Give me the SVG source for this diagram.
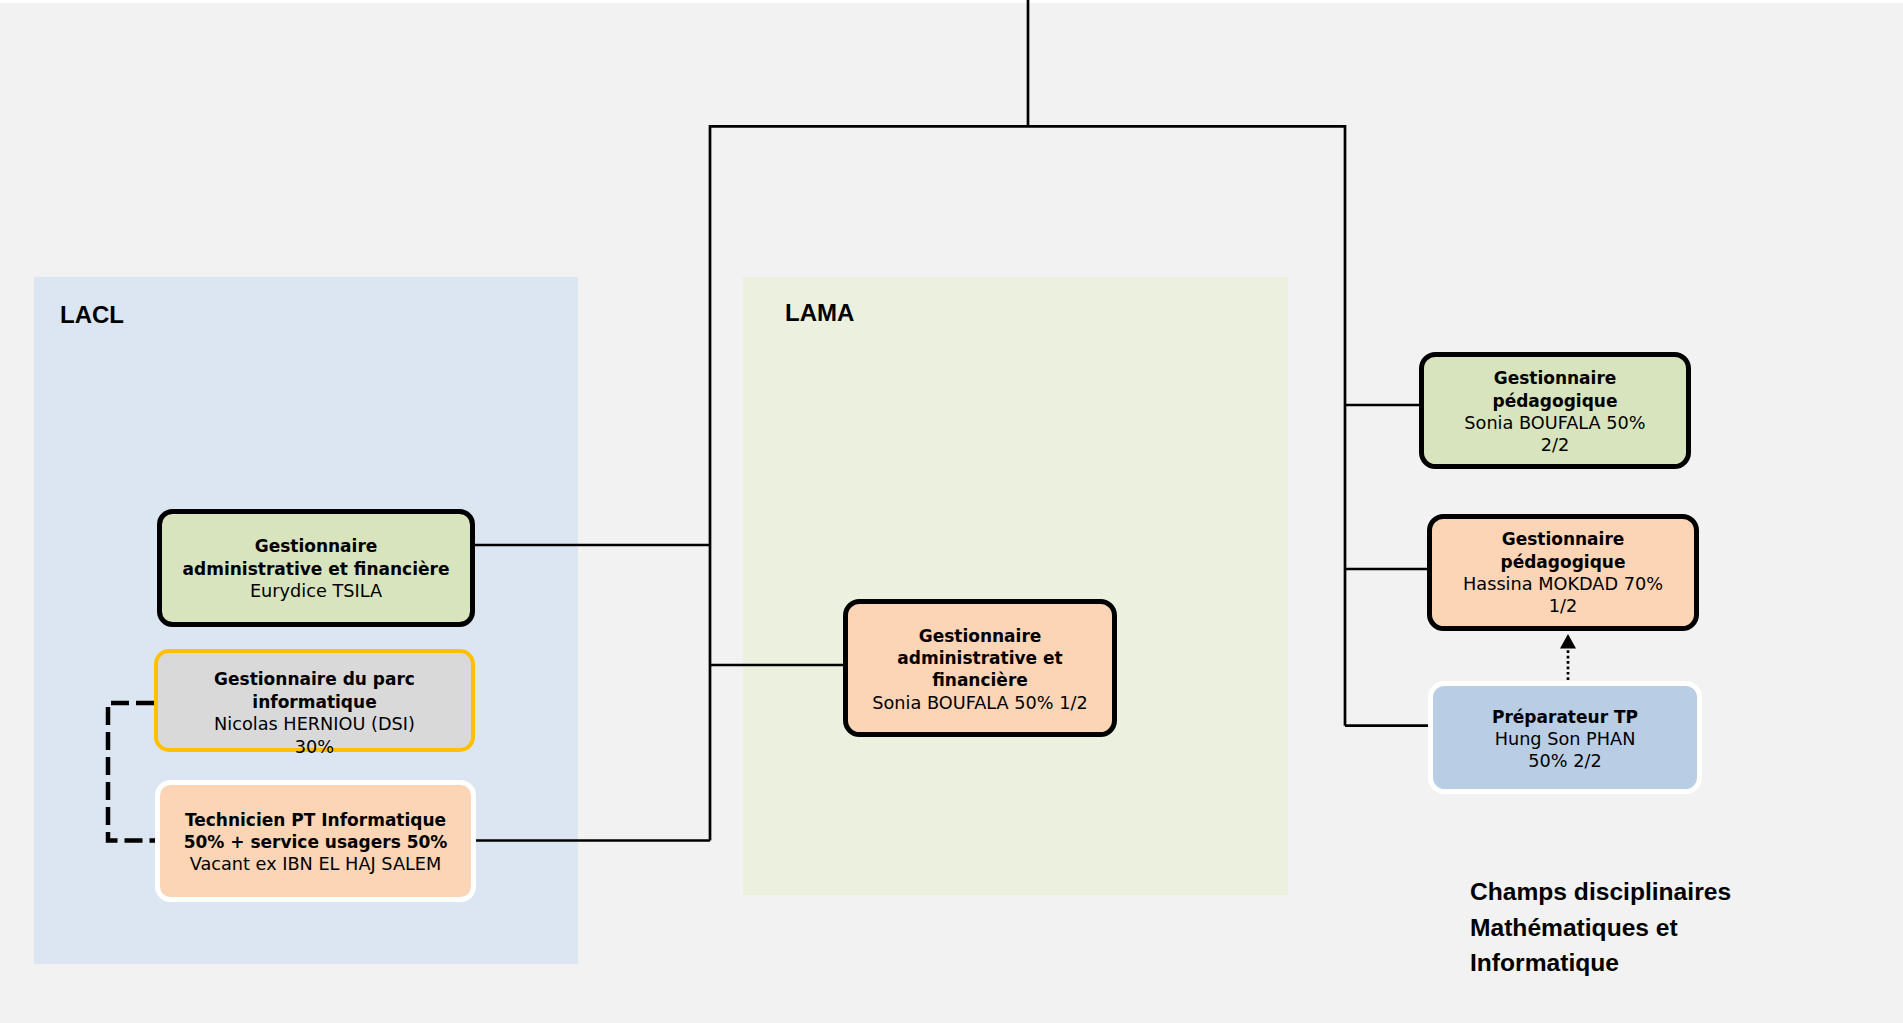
<svg xmlns="http://www.w3.org/2000/svg" width="1903" height="1023" viewBox="0 0 1903 1023">
<style>
.t{font-family:"DejaVu Sans","Liberation Sans",sans-serif;font-size:17.7px;fill:#000;text-anchor:middle}
.b{font-weight:bold;font-size:17px}
.lbl{font-family:"Liberation Sans",Arial,sans-serif;font-size:24px;font-weight:bold;fill:#000}
.cap{font-size:24.6px}
.box{stroke:#000;stroke-width:5}
.wbox{stroke:#fff;stroke-width:5}
.ln{fill:none;stroke:#000;stroke-width:2.7}
</style>
<rect x="0" y="0" width="1903" height="1023" fill="#F2F2F2"/>
<rect x="0" y="0" width="1903" height="3" fill="#FFFFFF"/>
<g id="lacl-group">
<rect x="34" y="277" width="544" height="687" fill="#DCE6F2"/>
<text class="lbl" x="60" y="322.5">LACL</text>
</g>
<g id="lama-group">
<rect x="743" y="277" width="545" height="618" fill="#EBF1DE"/>
<text class="lbl" x="785" y="320.7">LAMA</text>
</g>
<g id="connectors">
<path class="ln" d="M1028,0 V126.3"/>
<path class="ln" d="M710,840.5 V126.3 H1345 V725.7"/>
<path class="ln" d="M475,545 H710"/>
<path class="ln" d="M710,665 H843"/>
<path class="ln" d="M476,840.5 H710"/>
<path class="ln" d="M1345,405 H1419"/>
<path class="ln" d="M1345,569 H1427"/>
<path class="ln" d="M1345,725.7 H1428"/>
<path d="M154,703 H108 V840.5 H155" fill="none" stroke="#000" stroke-width="4.5" stroke-dasharray="18 7"/>
<path d="M1568,680 V648" fill="none" stroke="#000" stroke-width="2.7" stroke-dasharray="2.7 2.7"/>
<polygon points="1560,648.5 1576,648.5 1568,634" fill="#000"/>
</g>
<g id="lacl-gaf">
<rect class="box" x="159.5" y="511.5" width="313" height="113" rx="13" fill="#D7E4BD"/>
<text class="t b" x="316" y="552.3">Gestionnaire</text>
<text class="t b" x="316" y="575">administrative et financière</text>
<text class="t" x="316" y="597.3">Eurydice TSILA</text>
</g>
<g id="lacl-parc">
<rect x="156" y="651" width="317" height="99" rx="13" fill="#D9D9D9" stroke="#FFC000" stroke-width="4"/>
<text class="t b" x="314.5" y="685">Gestionnaire du parc</text>
<text class="t b" x="314.5" y="707.5">informatique</text>
<text class="t" x="314.5" y="730">Nicolas HERNIOU (DSI)</text>
<text class="t" x="314.5" y="752.5">30%</text>
</g>
<g id="lacl-tech">
<rect class="wbox" x="157.5" y="782.5" width="316" height="117" rx="13" fill="#FBD5B5"/>
<text class="t b" x="315.5" y="825.7">Technicien PT Informatique</text>
<text class="t b" x="315.5" y="847.7">50% + service usagers 50%</text>
<text class="t" x="315.5" y="870">Vacant ex IBN EL HAJ SALEM</text>
</g>
<g id="lama-gaf">
<rect class="box" x="845.5" y="601.5" width="269" height="133" rx="14" fill="#FBD5B5"/>
<text class="t b" x="980" y="641.5">Gestionnaire</text>
<text class="t b" x="980" y="663.5">administrative et</text>
<text class="t b" x="980" y="686">financière</text>
<text class="t" x="980" y="708.5">Sonia BOUFALA 50% 1/2</text>
</g>
<g id="ped-sonia">
<rect class="box" x="1421.5" y="354.5" width="267" height="112" rx="14" fill="#D7E4BD"/>
<text class="t b" x="1555" y="384">Gestionnaire</text>
<text class="t b" x="1555" y="406.5">pédagogique</text>
<text class="t" x="1555" y="428.7">Sonia BOUFALA 50%</text>
<text class="t" x="1555" y="450.7">2/2</text>
</g>
<g id="ped-hassina">
<rect class="box" x="1429.5" y="516.5" width="267" height="112" rx="14" fill="#FBD5B5"/>
<text class="t b" x="1563" y="545">Gestionnaire</text>
<text class="t b" x="1563" y="567.5">pédagogique</text>
<text class="t" x="1563" y="590">Hassina MOKDAD 70%</text>
<text class="t" x="1563" y="612">1/2</text>
</g>
<g id="prep-tp">
<rect class="wbox" x="1430.5" y="683.5" width="269" height="108" rx="14" fill="#B9CDE5"/>
<text class="t b" x="1565" y="723.3">Préparateur TP</text>
<text class="t" x="1565" y="745">Hung Son PHAN</text>
<text class="t" x="1565" y="766.7">50% 2/2</text>
</g>
<g id="caption">
<text class="lbl cap" x="1470" y="900">Champs disciplinaires</text>
<text class="lbl cap" x="1470" y="935.5">Mathématiques et</text>
<text class="lbl cap" x="1470" y="971">Informatique</text>
</g>
</svg>
